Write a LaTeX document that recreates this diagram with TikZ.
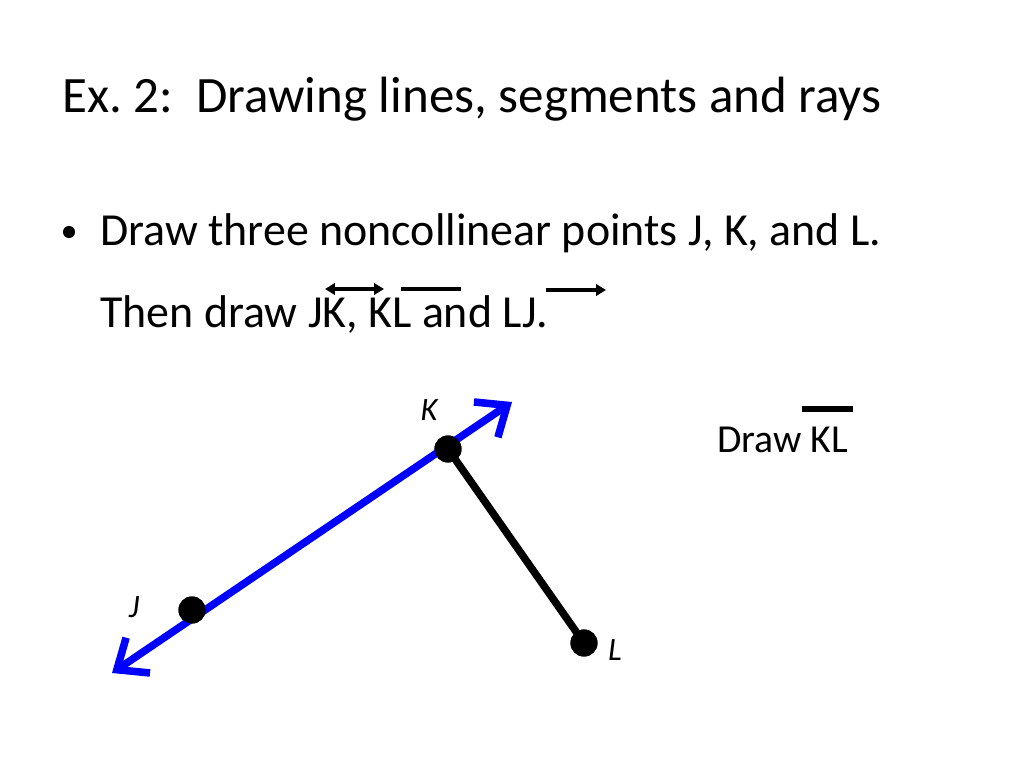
\documentclass[tikz,border=0pt]{standalone}
\usepackage{fontspec}
\setmainfont{Carlito}
\usetikzlibrary{arrows.meta}
\frenchspacing
\begin{document}
\begin{tikzpicture}[x=0.703125bp,y=-0.703125bp]
    \tikzset{
    txt/.style={anchor=base west,inner sep=0pt},
    dot/.style={circle,fill=black,inner sep=0pt,minimum size=19bp},
    lbl/.style={inner sep=0pt,font=\fontsize{23}{26}\selectfont\itshape},
    ray/.style={blue,line width=5.3bp,{Straight Barb[length=18bp,width=30bp]}-{Straight Barb[length=18bp,width=30bp]}},
    seg/.style={black,line width=5.3bp},
    bar/.style={line width=2.2bp},
    head/.style={-{Triangle[length=7bp,width=8bp]}},
    }
    \useasboundingbox (0,0) rectangle (1024,768);

    % text
    \node[txt,font=\fontsize{36}{40}\selectfont] (title) at (62,112) {Ex. 2:\ \ Drawing lines, segments and rays};
    \node[circle,fill=black,inner sep=0pt,minimum size=8.5bp] (bullet) at (69,232) {};
    \node[txt,font=\fontsize{32.4}{36}\selectfont] (line1) at (100,245) {Draw three noncollinear points J, K, and L.};
    \node[txt,font=\fontsize{32.4}{36}\selectfont] (line2) at (100,327) {Then draw JK, KL and LJ.};
    \node[txt,font=\fontsize{28}{32}\selectfont] (task) at (717,452) {Draw KL};

    % marks over the names
    \coordinate (jk1) at (325,289);
    \coordinate (jk2) at (384,289);
    \coordinate (kl1) at (401,289);
    \coordinate (kl2) at (461,289);
    \coordinate (lj1) at (546,290);
    \coordinate (lj2) at (606,290);
    \coordinate (dkl1) at (802,409);
    \coordinate (dkl2) at (853,409);
    \draw[bar,{Triangle[length=7bp,width=8bp]}-{Triangle[length=7bp,width=8bp]}] (jk1) -- (jk2);
    \draw[bar,line width=3bp] (kl1) -- (kl2);
    \draw[bar,head] (lj1) -- (lj2);
    \draw[bar,line width=4.5bp] (dkl1) -- (dkl2);

    % points
    \node[dot] (J) at (192,610) {};
    \node[dot] (K) at (448,449) {};
    \node[dot] (L) at (584,643) {};
    \coordinate (Jend) at (112,673);
    \coordinate (Kend) at (512,402);

    \draw[ray] (Jend) -- (Kend);
    \draw[seg] (K.center) -- (L.center);
    \node[dot] at (J) {};
    \node[dot] at (K) {};
    \node[dot] at (L) {};

    \node[lbl] (Jlbl) at (134,607) {J};
    \node[lbl] (Klbl) at (429,410) {K};
    \node[lbl] (Llbl) at (615,650) {L};
\end{tikzpicture}
\end{document}
